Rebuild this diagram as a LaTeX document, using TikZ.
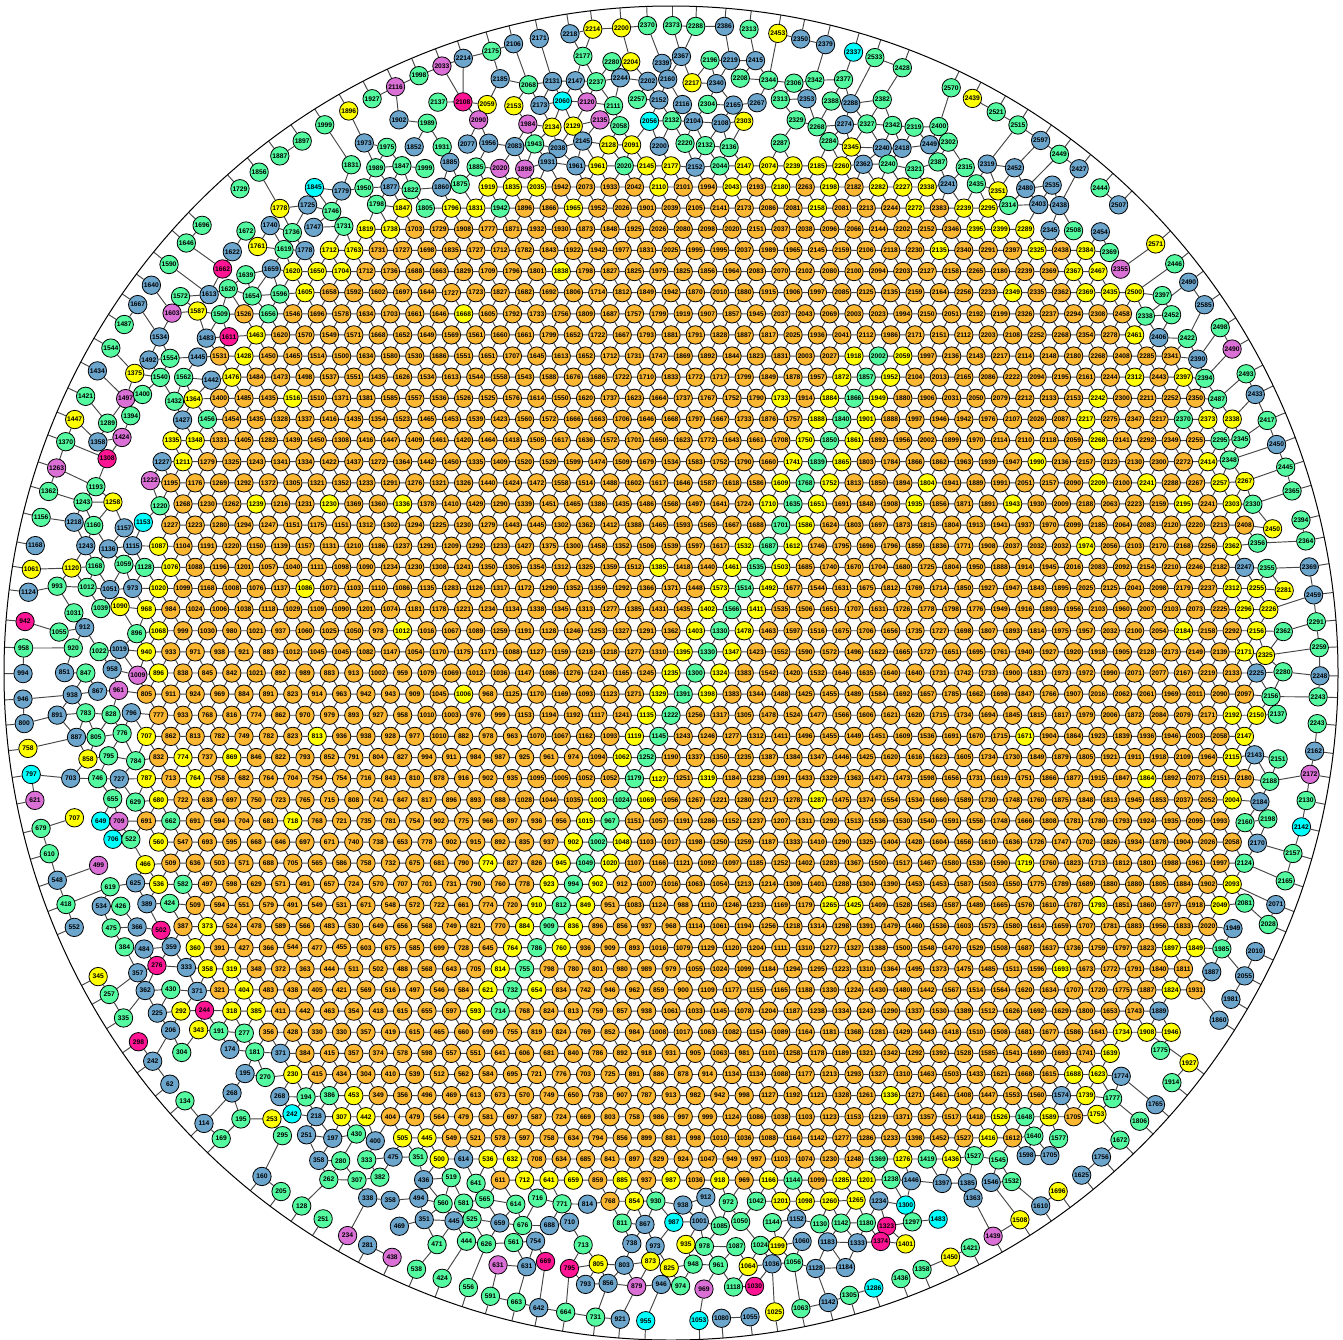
\documentclass[tikz,border=0pt]{standalone}
\usepackage{fontspec}
\setsansfont{Liberation Sans}
\definecolor{cOr}{HTML}{FBB632}
\definecolor{cYe}{HTML}{FFFF00}
\definecolor{cGr}{HTML}{54FA9F}
\definecolor{cBl}{HTML}{6CA6CD}
\definecolor{cPk}{HTML}{FF1493}
\definecolor{cVi}{HTML}{DA70D6}
\definecolor{cCy}{HTML}{00FFFF}
\pgfdeclarelayer{bg}
\pgfsetlayers{bg,main}
\tikzset{
  vtx/.style={circle,draw,minimum size=18.4pt,inner sep=0pt,
    font=\sffamily\bfseries\fontsize{6.7}{7}\selectfont},
  lnk/.style={draw=black!72,line width=0.95pt},
  rimstyle/.style={circle,draw=black,line width=1pt,minimum size=1334pt,inner sep=0pt,outer sep=0pt}
}
\newcommand\edgeif[4]{%
  \ifcsname pgf@sh@ns@n#3x#4\endcsname
    \pgfmathsetmacro\eg{rnd}%
    \def\keep{1}%
    \ifcsname zz#1x#2\endcsname\ifdim\eg pt>0.74pt\def\keep{0}\fi\fi
    \ifcsname zz#3x#4\endcsname\ifdim\eg pt>0.74pt\def\keep{0}\fi\fi
    \ifnum\keep=1 \xdef\rowedges{\rowedges (n#1x#2)--(n#3x#4)}\fi
  \fi}
\newcommand\pickouter[1]{%
  \ifdim#1pt<0.44pt\def\vcol{cGr}\else
  \ifdim#1pt<0.82pt\def\vcol{cBl}\else
  \ifdim#1pt<0.88pt\def\vcol{cYe}\else
  \ifdim#1pt<0.915pt\def\vcol{cPk}\else
  \ifdim#1pt<0.97pt\def\vcol{cVi}\else
  \def\vcol{cCy}\fi\fi\fi\fi\fi}
\newcommand\mknum{%
  \pgfmathtruncatemacro\nn{1.85*veclen(\px-150,\py-1200)-60+200*rnd-100}%
  \pgfmathtruncatemacro\nn{ifthenelse(\nn<1,1-\nn,ifthenelse(\nn>2600,5200-\nn,\nn))}}
\begin{document}
\begin{tikzpicture}[x=1pt,y=-1pt]
\useasboundingbox (0,0) rectangle (1343,1339);
\node[rimstyle] (rim) at (671,673) {};
\pgfmathsetseed{271828}
\begin{scope}[line width=0.8pt]
% lattice nodes
\foreach \I in {9,...,71}{%
 \foreach \J in {12,...,68}{%
  \pgfmathsetmacro\off{ifthenelse(mod(\I,2)==1,12.2,0)}%
  \pgfmathsetmacro\px{671+(\J-40)*24.4+\off}%
  \pgfmathsetmacro\py{673+(\I-40)*21.13}%
  \pgfmathsetmacro\rr{veclen(\px-671,\py-673)}%
  \ifdim\rr pt<622pt
   \pgfmathsetmacro\dd{((abs(\px-700)+0.01)/565)^2.4+((abs(\py-680)+0.01)/520)^2.4}%
   \pgfmathsetmacro\dd{\dd^0.41667+0.04*rnd-0.02}%
   \pgfmathsetmacro\ra{rnd}%
   \def\keepnode{1}\def\isout{0}%
   \ifdim\dd pt<0.952pt
     \pgfmathtruncatemacro\uu{round((\J-40)+\off/24.4+0.5*(\I-40))}%
     \def\vcol{cOr}%
     \ifdim\ra pt<0.02pt\def\vcol{cYe}\fi
     \ifdim\py pt>345pt\ifdim\py pt<1015pt
        \ifnum\uu=1 \def\vcol{cGr}\fi
        \ifnum\uu=0 \ifdim\ra pt<0.9pt\def\vcol{cYe}\fi\fi
        \ifnum\uu=2 \ifdim\ra pt<0.9pt\def\vcol{cYe}\fi\fi
     \fi\fi
   \else
    \ifdim\dd pt<1.0pt
      \ifdim\ra pt<0.64pt\def\vcol{cYe}\else
      \ifdim\ra pt<0.84pt\def\vcol{cOr}\else
      \ifdim\ra pt<0.94pt\def\vcol{cGr}\else\def\vcol{cBl}\fi\fi\fi
    \else
      \def\isout{1}%
      \pickouter{\ra}%
      \pgfmathsetmacro\q{rnd}%
      \ifdim\q pt<0.09pt\def\keepnode{0}\fi
      \pgfmathsetmacro\px{\px+8*rnd-4}%
      \pgfmathsetmacro\py{\py+8*rnd-4}%
    \fi
   \fi
   \ifnum\keepnode=1
     \mknum
     \node[vtx,fill=\vcol] (n\I x\J) at (\px,\py) {\nn};%
     \ifnum\isout=1 \expandafter\gdef\csname zz\I x\J\endcsname{}\fi
   \fi
  \fi
 }%
}
% outer ring nodes
\foreach \k in {0,...,155}{%
 \pgfmathsetmacro\q{rnd}%
 \ifdim\q pt<0.94pt
  \pgfmathsetmacro\tha{\k*2.307692+0.5*rnd-0.25}%
  \pgfmathsetmacro\rad{648+2*rnd-1}%
  \pgfmathsetmacro\px{671+\rad*cos(\tha)}%
  \pgfmathsetmacro\py{673+\rad*sin(\tha)}%
  \pgfmathsetmacro\ra{rnd}%
  \pickouter{\ra}%
  \mknum
  \node[vtx,fill=\vcol] (r\k) at (\px,\py) {\nn};%
  \expandafter\xdef\csname rt\k\endcsname{\tha}%
 \fi}
\end{scope}
\begin{pgfonlayer}{bg}
\foreach \I in {9,...,71}{%
 \gdef\rowedges{}%
 \foreach \J in {12,...,68}{%
  \ifcsname pgf@sh@ns@n\I x\J\endcsname
   \pgfmathtruncatemacro\Jn{\J+1}%
   \pgfmathtruncatemacro\In{\I+1}%
   \pgfmathtruncatemacro\Ja{\J-1+mod(\I,2)}%
   \pgfmathtruncatemacro\Jb{\J+mod(\I,2)}%
   \edgeif{\I}{\J}{\I}{\Jn}%
   \edgeif{\I}{\J}{\In}{\Ja}%
   \edgeif{\I}{\J}{\In}{\Jb}%
  \fi
 }%
 \draw[lnk] \rowedges;%
}
\gdef\rowedges{}%
\foreach \k in {0,...,155}{%
 \ifcsname pgf@sh@ns@r\k\endcsname
  \edef\tha{\csname rt\k\endcsname}%
  \path (671,673) ++(\tha:667) coordinate (t\k);%
  \xdef\rowedges{\rowedges (r\k)--(t\k)}%
  \pgfmathtruncatemacro\kn{mod(\k+1,156)}%
  \pgfmathsetmacro\eg{rnd}%
  \ifcsname pgf@sh@ns@r\kn\endcsname\ifdim\eg pt<0.55pt \xdef\rowedges{\rowedges (r\k)--(r\kn)}\fi\fi
  \pgfmathsetmacro\qx{671+610*cos(\tha)}%
  \pgfmathsetmacro\qy{673+610*sin(\tha)}%
  \pgfmathtruncatemacro\ri{round((\qy-673)/21.13)+40}%
  \pgfmathsetmacro\roff{ifthenelse(mod(\ri,2)==1,12.2,0)}%
  \pgfmathtruncatemacro\rj{round((\qx-671-\roff)/24.4)+40}%
  \pgfmathsetmacro\eg{rnd}%
  \ifcsname pgf@sh@ns@n\ri x\rj\endcsname\ifdim\eg pt<0.8pt \xdef\rowedges{\rowedges (r\k)--(n\ri x\rj)}\fi\fi
 \fi}
\draw[lnk] \rowedges;
\end{pgfonlayer}
\end{tikzpicture}
\end{document}
